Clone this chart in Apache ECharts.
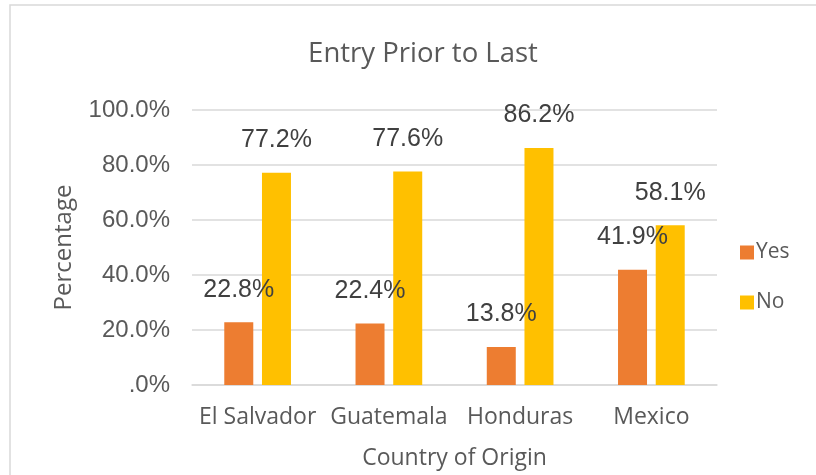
<!DOCTYPE html>
<html>
<head>
<meta charset="utf-8">
<script src="https://cdn.jsdelivr.net/npm/echarts@6/dist/echarts.min.js"></script>
<style>
html,body{margin:0;padding:0;background:#fff;overflow:hidden;}
#chart{width:816px;height:475px;}
</style>
</head>
<body>
<div id="chart"></div>
<script>
var categories = ['El Salvador', 'Guatemala', 'Honduras', 'Mexico'];
var yesValues = [22.8, 22.4, 13.8, 41.9];
var noValues = [77.2, 77.6, 86.2, 58.1];
var seriesNames = ['Yes', 'No'];
var yTicks = [0, 20, 40, 60, 80, 100];

function pct(v) {
  if (v === 0) return '.0%';
  return v.toFixed(1) + '%';
}

var chart = echarts.init(document.getElementById('chart'), null, {renderer: 'canvas'});
var labelStyle = {
  show: true,
  position: 'top',
  distance: 20,
  fontFamily: 'Liberation Sans, Arial, sans-serif',
  fontSize: 25,
  color: '#404040',
  formatter: function (p) { return pct(p.value); }
};
chart.setOption({
  animation: false,
  backgroundColor: '#fff',
  graphic: [{
    type: 'rect',
    shape: {x: 10, y: 5, width: 830, height: 500},
    style: {fill: 'none', stroke: '#d9d9d9', lineWidth: 1.5},
    silent: true
  }],
  title: {
    text: 'Entry Prior to Last',
    left: 418,
    textAlign: 'center',
    top: 35,
    textStyle: {fontFamily: 'Open Sans', fontWeight: 'normal', fontSize: 27.5, color: '#595959'}
  },
  legend: {
    orient: 'vertical',
    left: 740,
    top: 242,
    padding: 0,
    itemWidth: 14,
    itemHeight: 14,
    itemGap: 29,
    icon: 'rect',
    textStyle: {fontFamily: 'Open Sans', fontSize: 21, color: '#595959', padding: [0, 0, 0, -3]},
    data: seriesNames
  },
  grid: {left: 192, top: 110, width: 525, height: 275, containLabel: false, outerBoundsMode: 'none'},
  xAxis: {
    type: 'category',
    data: categories,
    name: 'Country of Origin',
    nameLocation: 'middle',
    nameGap: 62,
    nameTextStyle: {fontFamily: 'Open Sans', fontSize: 23, color: '#595959'},
    axisLine: {lineStyle: {color: '#d9d9d9', width: 1.5}},
    axisTick: {show: false},
    axisLabel: {interval: 0, fontFamily: 'Open Sans', fontSize: 23, color: '#595959', margin: 21}
  },
  yAxis: {
    type: 'value',
    min: 0,
    max: 100,
    interval: 20,
    name: 'Percentage',
    nameLocation: 'middle',
    nameGap: 116,
    nameTextStyle: {fontFamily: 'Open Sans', fontSize: 24, color: '#595959'},
    axisLine: {show: false},
    axisTick: {show: false},
    splitLine: {lineStyle: {color: '#d9d9d9', width: 1.5}},
    axisLabel: {
      fontFamily: 'Liberation Sans, Arial, sans-serif',
      fontSize: 24,
      color: '#595959',
      margin: 22,
      formatter: function (v) { return yTicks.indexOf(v) >= 0 ? pct(v) : ''; }
    }
  },
  series: [
    {name: seriesNames[0], type: 'bar', data: yesValues, barWidth: 29, barGap: '30%',
     itemStyle: {color: '#ED7D31'}, label: labelStyle},
    {name: seriesNames[1], type: 'bar', data: noValues, barWidth: 29,
     itemStyle: {color: '#FFC000'}, label: labelStyle}
  ]
});
</script>
</body>
</html>
